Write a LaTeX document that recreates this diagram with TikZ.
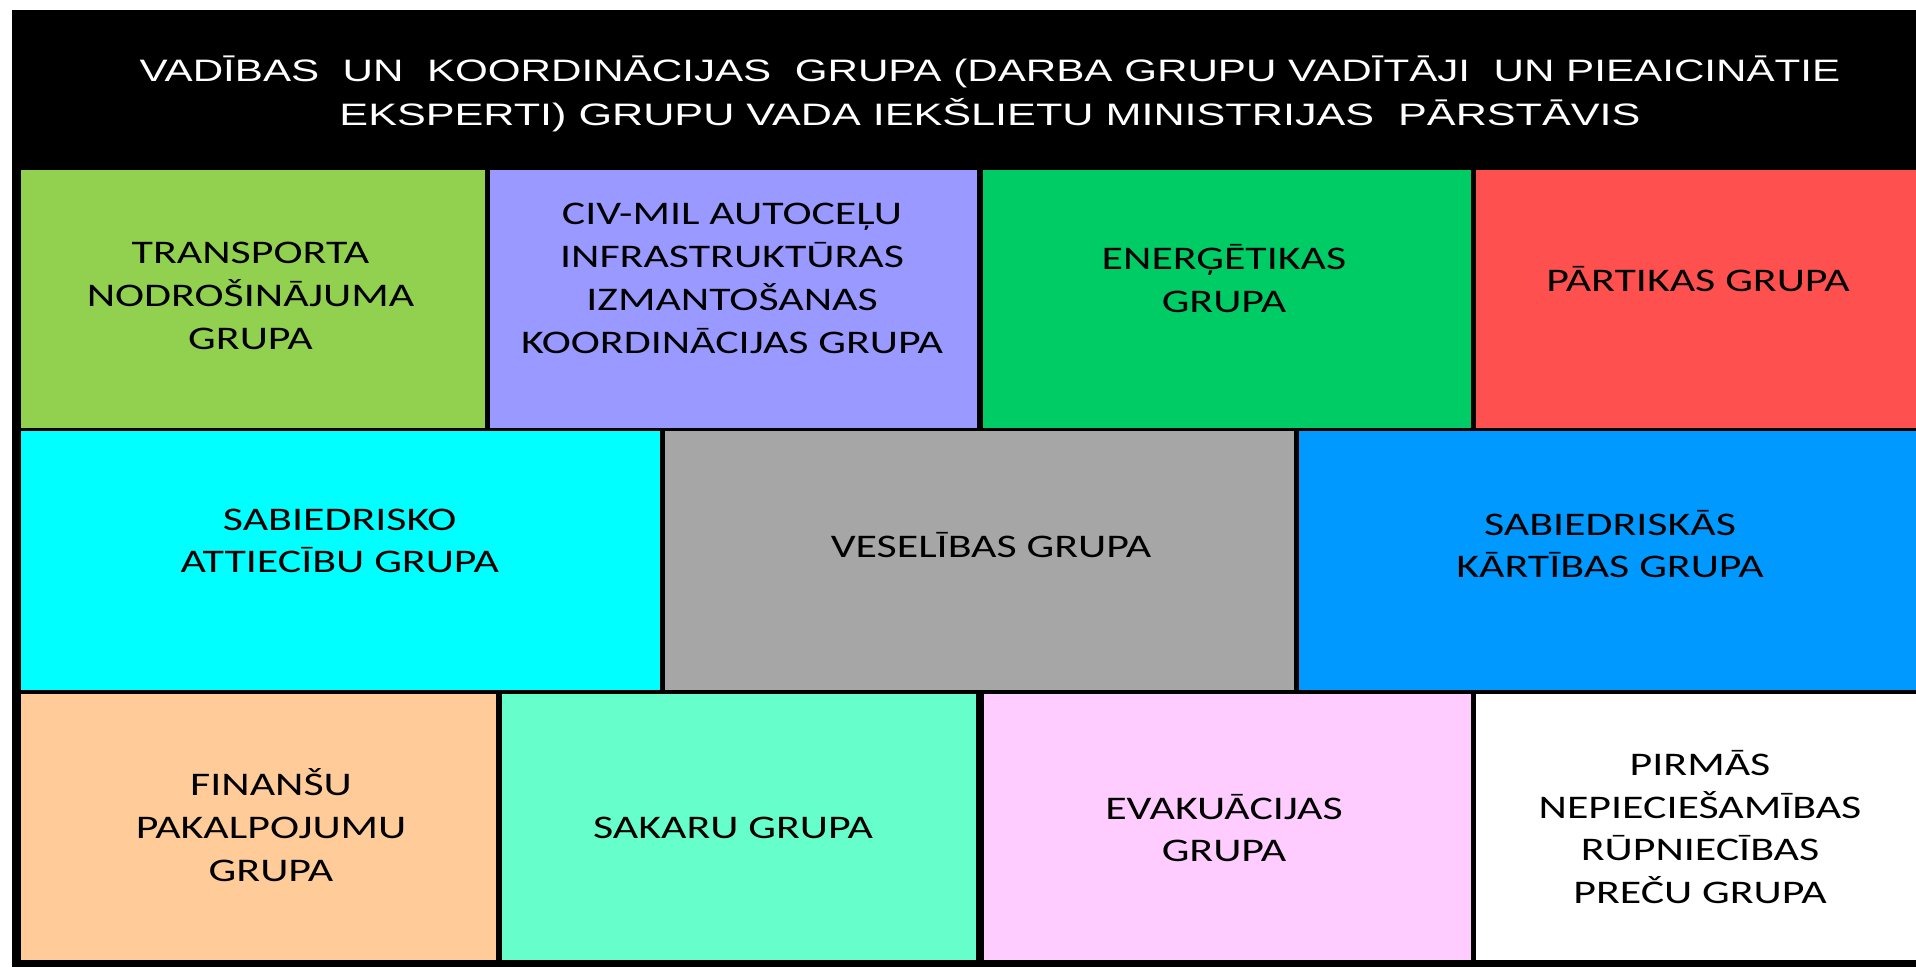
\documentclass[tikz,border=0pt]{standalone}
\usepackage{fontspec}
\usepackage{graphicx}
\newfontfamily\boxfont[FakeStretch=1.33]{Carlito}
\newfontfamily\headfont[FakeStretch=1.36]{Liberation Sans}
\definecolor{cgreenA}{HTML}{92D050}
\definecolor{cpurple}{HTML}{9999FF}
\definecolor{cgreenB}{HTML}{00CC66}
\definecolor{cred}{HTML}{FF5050}
\definecolor{ccyan}{HTML}{00FFFF}
\definecolor{cgray}{HTML}{A6A6A6}
\definecolor{cblue}{HTML}{0099FF}
\definecolor{cpeach}{HTML}{FFCC99}
\definecolor{cmint}{HTML}{66FFCC}
\definecolor{cpink}{HTML}{FFCCFF}
\begin{document}
\begin{tikzpicture}[x=1pt,y=-1pt,
  cell/.style={draw=none,inner sep=0pt,outer sep=0pt,rectangle},
  lbl/.style={inner sep=0pt,align=center,text=black,font=\boxfont\fontsize{33}{42.8}\selectfont},
  head/.style={inner sep=0pt,align=center,text=white,font=\headfont\fontsize{31}{44}\selectfont}]
\useasboundingbox (0,0) rectangle (1916,967);
\fill[white] (0,0) rectangle (1916,967);
\node[cell,fill=black,anchor=north west,minimum width=1904pt,minimum height=957pt] (bg) at (12,10) {};
% row 1
\node[cell,fill=cgreenA,minimum width=464pt,minimum height=258pt] (transp) at (253,299) {};
\node[cell,fill=cpurple,minimum width=487pt,minimum height=258pt] (civmil) at (733.5,299) {};
\node[cell,fill=cgreenB,minimum width=488pt,minimum height=258pt] (energ) at (1227,299) {};
\node[cell,fill=cred,minimum width=440pt,minimum height=258pt] (part) at (1696,299) {};
% row 2
\node[cell,fill=ccyan,minimum width=639pt,minimum height=259pt] (sabattie) at (340.5,560.5) {};
\node[cell,fill=cgray,minimum width=629pt,minimum height=259pt] (vesel) at (979.5,560.5) {};
\node[cell,fill=cblue,minimum width=617pt,minimum height=259pt] (sabkart) at (1607.5,560.5) {};
% row 3
\node[cell,fill=cpeach,minimum width=475pt,minimum height=266pt] (finan) at (258.5,827) {};
\node[cell,fill=cmint,minimum width=474pt,minimum height=266pt] (sakar) at (739,827) {};
\node[cell,fill=cpink,minimum width=487pt,minimum height=266pt] (evak) at (1227.5,827) {};
\node[cell,fill=white,minimum width=440pt,minimum height=266pt] (pirm) at (1696,827) {};
% header text
\node[head] (headtxt) at (990,93.5) {VADĪBAS\ \ UN\ \ KOORDINĀCIJAS\ \ GRUPA (DARBA GRUPU VADĪTĀJI\ \ UN PIEAICINĀTIE\\\scalebox{1.024}[1]{EKSPERTI) GRUPU VADA IEKŠLIETU MINISTRIJAS\ \ PĀRSTĀVIS}};
% labels
\node[lbl] (transpT) at (250.5,295.7) {TRANSPORTA\\NODROŠINĀJUMA\\GRUPA};
\node[lbl] (civmilT) at (732,278.6) {CIV-MIL AUTOCEĻU\\INFRASTRUKTŪRAS\\IZMANTOŠANAS\\KOORDINĀCIJAS GRUPA};
\node[lbl] (energT) at (1224,278.6) {ENERĢĒTIKAS\\GRUPA};
\node[lbl] (partT) at (1698,278.6) {PĀRTIKAS GRUPA};
\node[lbl] (sabattieT) at (339.7,541) {SABIEDRISKO\\ATTIECĪBU GRUPA};
\node[lbl] (veselT) at (991,545) {VESELĪBAS GRUPA};
\node[lbl] (sabkartT) at (1610,544) {SABIEDRISKĀS\\KĀRTĪBAS GRUPA};
\node[lbl] (finanT) at (271,825) {FINANŠU\\PAKALPOJUMU\\GRUPA};
\node[lbl] (sakarT) at (733,828) {SAKARU GRUPA};
\node[lbl] (evakT) at (1224,828) {EVAKUĀCIJAS\\GRUPA};
\node[lbl] (pirmT) at (1700,827) {PIRMĀS\\NEPIECIEŠAMĪBAS\\RŪPNIECĪBAS\\PREČU GRUPA};
\end{tikzpicture}
\end{document}
